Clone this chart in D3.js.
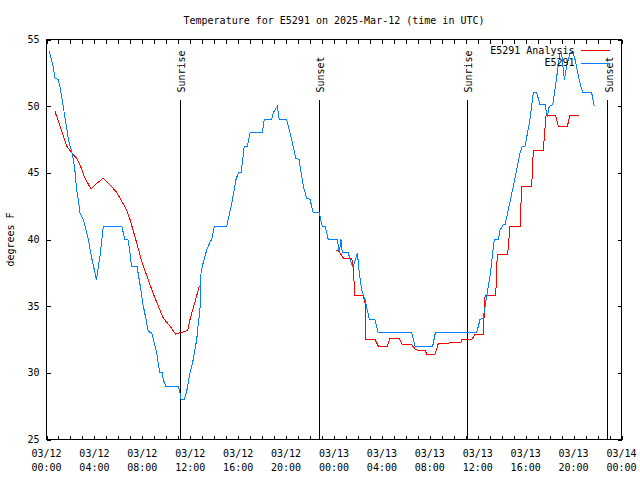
<!DOCTYPE html>
<html><head><meta charset="utf-8">
<script src="https://cdn.jsdelivr.net/npm/d3@7/dist/d3.min.js"></script>
<style>
body{margin:0;background:#fff}
svg{display:block}
text{font-family:"DejaVu Sans Mono","Liberation Mono",monospace;font-size:10px;fill:#000}
</style>
</head><body>
<svg id="chart" width="640" height="480"></svg>
<script>
const chartTitle = "Temperature for E5291 on 2025-Mar-12 (time in UTC)";
const yLabel = "degrees F";
const startUTC = Date.UTC(2025, 2, 12, 0, 0);
const endUTC = Date.UTC(2025, 2, 14, 0, 0);
const yTicks = [25, 30, 35, 40, 45, 50, 55];
const seriesNames = ["E5291 Analysis", "E5291"];

// hours since 2025-03-12 00:00 UTC
const obsHours = [0.23,0.38,0.57,0.71,0.99,1.13,1.27,1.40,1.54,1.69,
  1.82,2.10,2.24,2.38,2.52,2.65,2.80,3.07,3.36,3.49,
  3.80,4.17,4.47,4.74,6.28,6.55,6.80,6.97,7.10,7.55,
  7.81,8.06,8.31,8.47,8.64,8.78,8.92,9.20,9.33,9.47,
  9.67,9.75,9.95,11.00,11.14,11.23,11.50,11.70,11.98,12.25,
  12.54,12.67,12.81,12.90,13.09,13.37,13.65,13.79,14.01,15.04,
  15.46,15.82,16.01,16.24,16.38,16.51,16.76,16.99,18.02,18.18,
  18.80,18.93,19.27,19.43,20.05,20.47,20.80,21.08,21.44,21.72,
  22.00,22.27,22.77,23.02,23.25,23.52,24.28,24.44,24.58,24.69,
  25.19,25.48,25.61,25.81,25.95,26.09,26.31,26.59,26.78,26.95,
  27.42,27.70,30.49,30.76,32.24,32.46,35.91,36.19,36.46,36.75,
  37.02,37.38,37.72,37.86,38.13,38.28,38.97,39.53,39.72,39.95,
  40.36,40.64,40.92,41.20,41.62,41.81,41.97,42.26,42.59,42.87,
  43.01,43.23,43.43,43.70,43.93,44.12,44.54,44.76,45.51,45.73];
const obsTemps = [54.1,53.6,52.9,52.1,52.0,51.4,50.7,50.0,49.1,48.4,
  47.5,46.6,46.0,45.1,43.7,43.0,42.0,41.5,40.5,40.0,
  38.5,37.0,38.8,41.0,41.0,40.0,40.0,39.0,38.0,38.0,
  36.6,35.1,34.0,33.2,33.0,33.0,32.5,31.5,30.7,30.0,
  30.0,29.5,29.0,29.0,28.5,28.0,28.0,28.6,30.0,31.0,
  32.5,33.7,34.7,37.5,38.3,39.2,39.8,40.0,41.0,41.0,
  42.7,44.5,45.0,45.0,46.0,47.0,47.0,48.0,48.0,49.0,
  49.0,49.5,50.0,49.0,49.0,47.5,46.1,46.0,44.0,43.1,
  43.0,42.0,42.0,41.0,41.0,40.0,40.0,39.0,40.0,39.0,
  39.0,38.1,38.0,38.5,39.0,37.7,36.2,35.5,34.7,34.0,
  34.0,33.0,33.0,32.0,32.0,33.0,33.0,34.0,34.1,35.8,
  37.2,40.0,40.0,40.7,41.1,41.1,44.0,46.5,47.0,47.0,
  49.0,51.0,51.0,50.1,50.1,49.2,50.0,50.1,52.2,54.0,
  53.9,52.0,53.0,54.0,54.1,53.5,51.7,51.0,51.0,50.0];

// analysis: null marks a gap in the series
const anaHours = [0.71,1.13,1.69,2.10,2.52,2.80,3.21,3.71,4.19,4.74,
  5.30,5.80,6.14,6.70,6.97,7.45,7.97,8.64,9.06,9.75,
  10.31,10.79,11.14,11.56,11.79,11.98,12.76,
  18.0,
  24.23,24.50,24.78,25.48,25.61,25.70,25.75,26.45,26.59,26.67,
  27.42,27.70,28.45,28.67,29.45,29.70,30.49,30.76,30.95,31.60,
  31.74,32.43,32.71,33.54,33.68,34.60,34.66,35.50,35.77,36.46,
  36.61,37.50,37.63,38.50,38.69,39.53,39.67,40.50,40.64,41.47,
  41.70,42.51,42.73,43.48,43.70,44.48];
const anaTemps = [49.6,48.5,47.0,46.5,46.1,45.6,44.6,43.8,44.2,44.6,
  44.1,43.6,43.1,42.2,41.5,40.0,38.3,36.6,35.6,34.1,
  33.5,32.9,33.0,33.1,33.2,34.0,36.5,
  null,
  39.2,39.0,38.6,38.6,37.8,36.5,35.8,35.8,35.2,32.5,
  32.5,32.0,32.0,32.6,32.6,32.1,32.1,31.8,31.7,31.7,
  31.4,31.4,32.2,32.2,32.3,32.3,32.5,32.5,32.9,32.9,
  35.8,35.8,38.9,38.9,41.0,41.0,44.0,44.0,46.7,46.7,
  49.3,49.3,48.5,48.5,49.3,49.3];

const sunLabels = ["Sunrise", "Sunset", "Sunrise", "Sunset"];
const sunHours = [11.17, 22.77, 35.13, 46.85];

const H = 3600 * 1000;
const toDate = h => new Date(startUTC + h * H);

const svg = d3.select("#chart");
const L = 46.5, R = 621.5, T = 39.5, B = 439.5;

const x = d3.scaleUtc().domain([new Date(startUTC), new Date(endUTC)]).range([L, R]);
const y = d3.scaleLinear().domain([25, 55]).range([B, T]);

// title
svg.append("text").attr("x", (L + R) / 2).attr("y", 23.5)
  .attr("text-anchor", "middle").text(chartTitle);

// y label
svg.append("text").attr("transform", `translate(13.5,${(T + B) / 2}) rotate(-90)`)
  .attr("text-anchor", "middle").text(yLabel);

// axes
const hourly = d3.utcHour.range(new Date(startUTC), new Date(endUTC + 1), 1);
const major = d3.utcHour.range(new Date(startUTC), new Date(endUTC + 1), 4);

const gB = svg.append("g").attr("transform", `translate(0,${B})`)
  .call(d3.axisBottom(x).tickValues(hourly).tickSizeInner(-4).tickSizeOuter(0).tickFormat(""));
const gT = svg.append("g").attr("transform", `translate(0,${T})`)
  .call(d3.axisTop(x).tickValues(hourly).tickSizeInner(-4).tickSizeOuter(0).tickFormat(""));
const gL = svg.append("g").attr("transform", `translate(${L},0)`)
  .call(d3.axisLeft(y).tickValues(yTicks).tickSizeInner(-4).tickSizeOuter(0).tickFormat(""));
const gR = svg.append("g").attr("transform", `translate(${R},0)`)
  .call(d3.axisRight(y).tickValues(yTicks).tickSizeInner(-4).tickSizeOuter(0).tickFormat(""));
[gB, gT, gL, gR].forEach(g => {
  g.select(".domain").remove();
  g.selectAll("line").attr("stroke", "#000").attr("shape-rendering", "crispEdges");
});

// frame
svg.append("rect").attr("x", L).attr("y", T).attr("width", R - L).attr("height", B - T)
  .attr("fill", "none").attr("stroke", "#000").attr("shape-rendering", "crispEdges");

// y tick labels
svg.append("g").selectAll("text").data(yTicks).join("text")
  .attr("x", L - 7).attr("y", d => y(d) + 3.6)
  .attr("text-anchor", "end").text(d => d);

// x tick labels
const fmtD = d3.utcFormat("%m/%d"), fmtT = d3.utcFormat("%H:%M");
const xl = svg.append("g").selectAll("g").data(major).join("g");
xl.append("text").attr("x", d => x(d)).attr("y", 457).attr("text-anchor", "middle").text(fmtD);
xl.append("text").attr("x", d => x(d)).attr("y", 471).attr("text-anchor", "middle").text(fmtT);

// sunrise / sunset
const sun = sunHours.map((h, i) => ({ h, label: sunLabels[i] }));
const sg = svg.append("g").selectAll("g").data(sun).join("g");
sg.append("line")
  .attr("x1", d => x(toDate(d.h))).attr("x2", d => x(toDate(d.h)))
  .attr("y1", 99.5).attr("y2", B)
  .attr("stroke", "#000").attr("shape-rendering", "crispEdges");
sg.append("text")
  .attr("transform", d => `translate(${x(toDate(d.h)) + 5},92.5) rotate(-90)`)
  .attr("text-anchor", "start").text(d => d.label);

// series
const anaData = anaHours.map((h, i) => ({ t: toDate(h), v: anaTemps[i] }));
const obsData = obsHours.map((h, i) => ({ t: toDate(h), v: obsTemps[i] }));
const line = d3.line().defined(d => d.v != null).x(d => x(d.t)).y(d => y(d.v));

svg.append("path").datum(anaData).attr("d", line)
  .attr("fill", "none").attr("stroke", "#ff0000").attr("stroke-width", 1)
  .attr("shape-rendering", "crispEdges");
svg.append("path").datum(obsData).attr("d", line)
  .attr("fill", "none").attr("stroke", "#0080ff").attr("stroke-width", 1)
  .attr("shape-rendering", "crispEdges");

// legend
const colors = ["#ff0000", "#0080ff"];
const lg = svg.append("g").selectAll("g").data(seriesNames).join("g")
  .attr("transform", (d, i) => `translate(0,${50 + i * 12.5})`);
lg.append("text").attr("x", 574.5).attr("y", 3.8).attr("text-anchor", "end").text(d => d);
lg.append("line").attr("x1", 581).attr("x2", 610).attr("y1", 0.5).attr("y2", 0.5)
  .attr("stroke", (d, i) => colors[i]).attr("shape-rendering", "crispEdges");
</script>
</body></html>
